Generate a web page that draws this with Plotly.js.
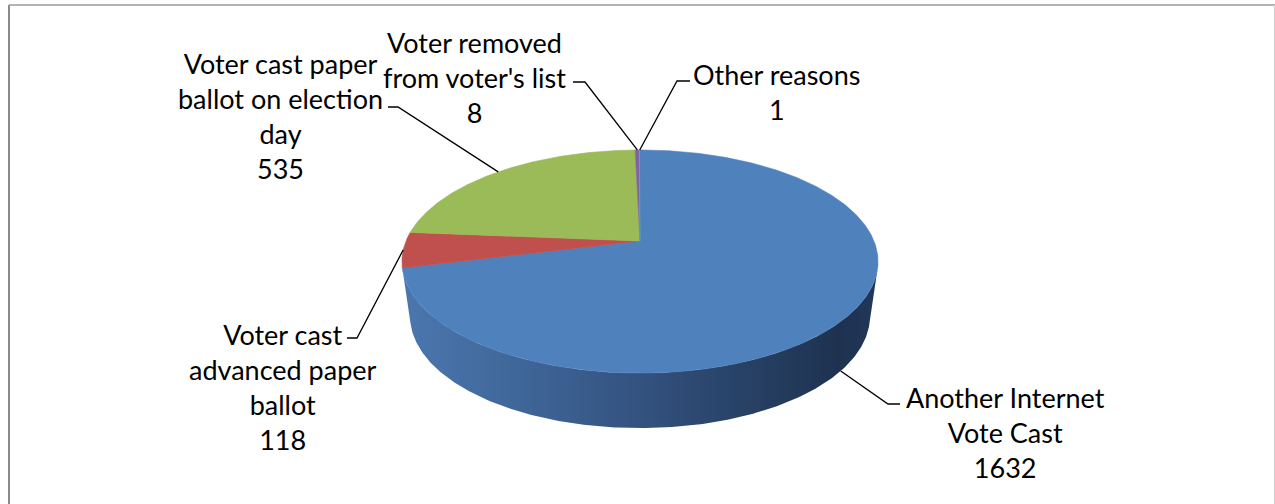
<!DOCTYPE html>
<html>
<head>
<meta charset="utf-8">
<script src="https://cdn.plot.ly/plotly-3.0.1.min.js"></script>
<style>
  html, body { margin: 0; padding: 0; background: #ffffff; }
  #chart { width: 1275px; height: 504px; }
</style>
</head>
<body>
<div id="chart"></div>
<script>
// ---------------- data ----------------
const categories = [
  "Another Internet Vote Cast",
  "Voter cast advanced paper ballot",
  "Voter cast paper ballot on election day",
  "Voter removed from voter's list",
  "Other reasons"
];
const values = [1632, 118, 535, 8, 1];
const labelText = [
  "Another Internet<br>Vote Cast",
  "Voter cast<br>advanced paper<br>ballot",
  "Voter cast paper<br>ballot on election<br>day",
  "Voter removed<br>from voter's list",
  "Other reasons"
];

// ---------------- style / layout config ----------------
const topColors = ["#4F81BD", "#C0504D", "#9BBB59", "#8064A2", "#4BACC6"];
const sideScales = [
  [[0, "#4B77AF"], [0.25, "#3F6698"], [0.5, "#33527F"], [0.75, "#263F62"], [0.92, "#1E3250"], [1, "#22385A"]],
  [[0, "#9A403E"], [1, "#7A302E"]],
  [[0, "#7A9446"], [1, "#5C7034"]],
  [[0, "#654F80"], [1, "#4C3C61"]],
  [[0, "#3A8BA0"], [1, "#2B6878"]]
];
const sideMid = ["#33527F", "#8A3A38", "#6E8540", "#5A4772", "#357F92"];

// perspective geometry of the 3-D pie (pixel space)
const G = {
  cx: 640,
  top: { cy: 241, rx: 234, ry: 107.8 },
  bot: { cy: 296, rx: 226, ry: 107.8 },
  k: 0.184,
  wallFrom: 103.5,   // visible front wall, degrees clockwise from 12 o'clock
  wallTo: 256.5
};
// label block centres and leader elbow/end points
const labelPos = [
  { x: 1005, y: 432, elbow: [888, 404], end: [900, 404] },
  { x: 283,  y: 387, elbow: [357, 338], end: [347, 338] },
  { x: 280,  y: 116, elbow: [398, 107], end: [388, 107] },
  { x: 474,  y: 77,  elbow: [585, 82],  end: [573, 82] },
  { x: 776,  y: 92,  elbow: [677, 81],  end: [690, 81] }
];

// ---------------- geometry helpers ----------------
function proj(thetaDeg, plane) {
  const t = thetaDeg * Math.PI / 180;
  const u = Math.sin(t), v = Math.cos(t);
  const w = 1 + G.k * v;
  const p = G[plane];
  return [G.cx + p.rx * u / w, p.cy - p.ry * v / w];
}
function arc(a, b, plane) {
  const pts = [];
  const n = Math.max(2, Math.ceil(Math.abs(b - a) / 0.5) + 1);
  for (let i = 0; i < n; i++) {
    const th = a + (b - a) * i / (n - 1);
    pts.push(proj(th, plane));
  }
  return pts;
}

const total = values.reduce((s, v) => s + v, 0);
const starts = [], ends = [], mids = [];
let acc = 0;
values.forEach(v => {
  const a = acc / total * 360;
  acc += v;
  const b = acc / total * 360;
  starts.push(a); ends.push(b); mids.push((a + b) / 2);
});

const visA = G.wallFrom, visB = G.wallTo;
const traces = [];

// side walls
values.forEach((v, i) => {
  const a = Math.max(starts[i], visA), b = Math.min(ends[i], visB);
  if (b <= a) return;
  const topArc = arc(a, b, "top");
  const botArc = arc(b, a, "bot");
  const pts = topArc.concat(botArc);
  pts.push(topArc[0]);
  traces.push({
    type: "scatter", mode: "lines",
    x: pts.map(p => p[0]), y: pts.map(p => p[1]),
    fill: "toself",
    fillcolor: sideMid[i],
    fillgradient: { type: "horizontal", colorscale: sideScales[i] },
    line: { width: 0 },
    hoverinfo: "skip", name: categories[i] + " side"
  });
});

// top surfaces
values.forEach((v, i) => {
  const centre = [G.cx, G.top.cy];
  const pts = [centre].concat(arc(starts[i], ends[i], "top"));
  pts.push(centre);
  traces.push({
    type: "scatter", mode: "lines",
    x: pts.map(p => p[0]), y: pts.map(p => p[1]),
    fill: "toself",
    fillcolor: topColors[i],
    line: { width: 0.6, color: topColors[i] },
    hoverinfo: "skip", name: categories[i]
  });
});

// leader lines
const lx = [], ly = [];
values.forEach((v, i) => {
  const inFront = mids[i] > visA && mids[i] < visB;
  const anchor = proj(mids[i], inFront ? "bot" : "top");
  const L = labelPos[i];
  lx.push(anchor[0], L.elbow[0], L.end[0], null);
  ly.push(anchor[1], L.elbow[1], L.end[1], null);
});
traces.push({
  type: "scatter", mode: "lines", x: lx, y: ly,
  line: { color: "#000000", width: 1.3 },
  hoverinfo: "skip", name: "leaders"
});

// labels
const annotations = values.map((v, i) => ({
  x: labelPos[i].x, y: labelPos[i].y,
  xref: "x", yref: "y",
  text: labelText[i] + "<br>" + v,
  showarrow: false, align: "center",
  xanchor: "center", yanchor: "middle",
  font: { family: "Lato, 'Open Sans', sans-serif", size: 27, color: "#000000" }
}));

const layout = {
  width: 1275, height: 504,
  margin: { l: 0, r: 0, t: 0, b: 0 },
  paper_bgcolor: "#ffffff", plot_bgcolor: "#ffffff",
  showlegend: false,
  xaxis: { range: [0, 1275], visible: false, fixedrange: true },
  yaxis: { range: [504, 0], visible: false, fixedrange: true },
  annotations: annotations,
  shapes: [
    { type: "line", xref: "x", yref: "y", x0: 9, x1: 9, y0: 5, y1: 504, line: { color: "#8a8a8a", width: 2 } },
    { type: "line", xref: "x", yref: "y", x0: 9, x1: 1275, y0: 5, y1: 5, line: { color: "#9a9a9a", width: 1.5 } },
    { type: "line", xref: "x", yref: "y", x0: 1274.5, x1: 1274.5, y0: 5, y1: 504, line: { color: "#cfcfcf", width: 1 } }
  ],
  hovermode: false
};

Plotly.newPlot("chart", traces, layout, { displayModeBar: false, staticPlot: true });
</script>
</body>
</html>
